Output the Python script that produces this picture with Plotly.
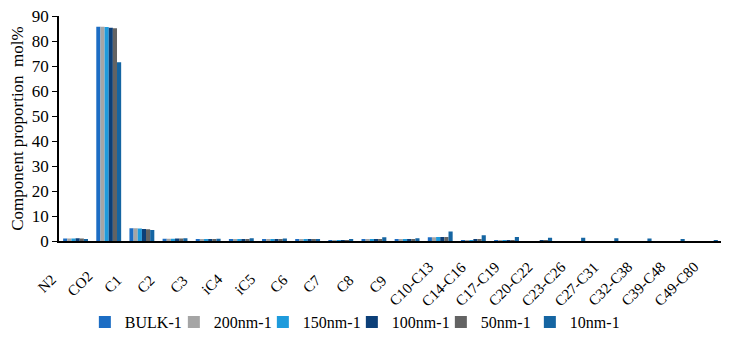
import plotly.graph_objects as go

categories = ["N2", "CO2", "C1", "C2", "C3", "iC4", "iC5", "C6", "C7", "C8", "C9",
              "C10-C13", "C14-C16", "C17-C19", "C20-C22", "C23-C26", "C27-C31",
              "C32-C38", "C39-C48", "C49-C80"]

series_names = ["BULK-1", "200nm-1", "150nm-1", "100nm-1", "50nm-1", "10nm-1"]

bulk_1 = [1.0, 85.7, 5.1, 0.9, 0.7, 0.8, 0.7, 0.6, 0.3, 0.7, 0.5, 1.5, 0.3, 0.1, 0.0, 0.0, 0.0, 0.0, 0.0, 0.0]
nm200_1 = [1.0, 85.7, 5.1, 0.9, 0.7, 0.8, 0.7, 0.6, 0.3, 0.7, 0.5, 1.5, 0.3, 0.1, 0.0, 0.0, 0.0, 0.0, 0.0, 0.0]
nm150_1 = [1.0, 85.6, 5.0, 0.9, 0.7, 0.8, 0.7, 0.6, 0.3, 0.7, 0.5, 1.6, 0.4, 0.1, 0.0, 0.0, 0.0, 0.0, 0.0, 0.0]
nm100_1 = [1.1, 85.3, 4.8, 1.0, 0.8, 0.8, 0.7, 0.6, 0.3, 0.7, 0.6, 1.6, 0.5, 0.2, 0.1, 0.0, 0.0, 0.0, 0.0, 0.0]
nm50_1 = [1.0, 85.1, 4.7, 1.0, 0.8, 0.8, 0.7, 0.6, 0.3, 0.7, 0.6, 1.6, 0.6, 0.3, 0.1, 0.0, 0.0, 0.0, 0.0, 0.0]
nm10_1 = [0.7, 71.5, 4.4, 1.1, 0.9, 1.1, 1.0, 0.8, 0.7, 1.5, 1.1, 3.8, 2.3, 1.6, 1.3, 1.3, 1.1, 1.0, 0.7, 0.4]

y_ticks = [0, 10, 20, 30, 40, 50, 60, 70, 80, 90]

colors = ["#1C6DC4", "#A5A5A5", "#1E9BDC", "#0C3F78", "#636363", "#1565A2"]
all_values = [bulk_1, nm200_1, nm150_1, nm100_1, nm50_1, nm10_1]

FONT = "Times New Roman, Liberation Serif, serif"

fig = go.Figure()
for name, vals, col in zip(series_names, all_values, colors):
    fig.add_trace(go.Bar(x=categories, y=vals, name=name, marker=dict(color=col, line=dict(width=0))))

# category labels, rotated about their centre (as in the source chart)
for cat in categories:
    fig.add_annotation(
        x=cat, y=0, xref="x", yref="y", text=cat, showarrow=False,
        textangle=-45, xanchor="center", yanchor="middle",
        xshift=-29, yshift=-43, font=dict(family=FONT, size=15, color="#000000"),
    )

fig.update_layout(
    width=721, height=341,
    barmode="group", bargap=0.25, bargroupgap=0,
    plot_bgcolor="white", paper_bgcolor="white",
    margin=dict(l=51, r=7, t=8, b=108, autoexpand=False),
    font=dict(family=FONT, size=16, color="#000000"),
    legend=dict(orientation="h", x=0.039, xanchor="left", y=-0.36, yanchor="middle",
                font=dict(family=FONT, size=16), itemwidth=30, tracegroupgap=0,
                entrywidth=44, bgcolor="rgba(0,0,0,0)"),
    showlegend=True,
)
fig.update_xaxes(
    type="category", categoryorder="array", categoryarray=categories,
    range=[-0.5, len(categories) - 0.5], autorange=False,
    showline=True, linecolor="#000000", linewidth=1.5,
    ticks="", showticklabels=False,
    showgrid=False, automargin=False,
)
fig.update_yaxes(
    range=[0, 90], autorange=False, tickvals=y_ticks, showline=True, linecolor="#000000", linewidth=1.5,
    ticks="outside", ticklen=5, tickcolor="#000000", showgrid=False, zeroline=False,
    tickfont=dict(family=FONT, size=17), automargin=False, ticklabeloverflow="allow",
    title=dict(text="Component proportion&nbsp;&nbsp;mol%", font=dict(family=FONT, size=17), standoff=6),
)

fig.write_html("out.html")
